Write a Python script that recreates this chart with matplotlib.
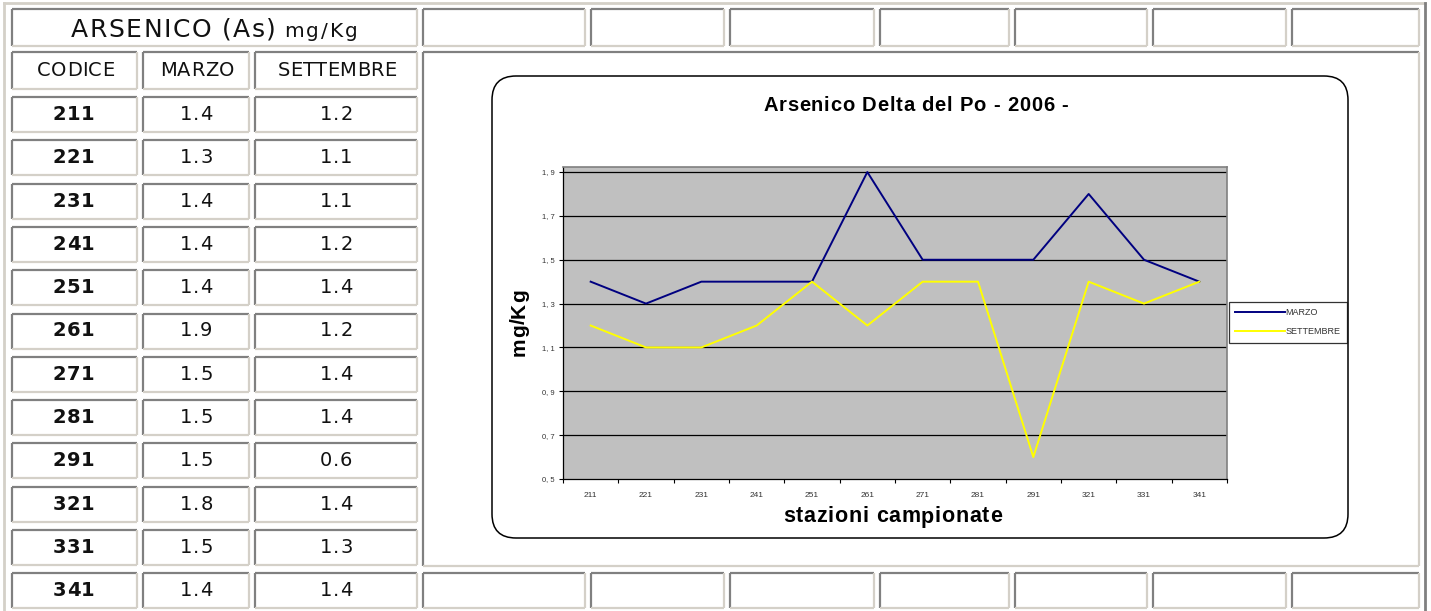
import matplotlib
matplotlib.use("Agg")
import matplotlib.pyplot as plt
from matplotlib.patches import FancyBboxPatch
from matplotlib.font_manager import FontProperties
import numpy as np

# data
codici = ["211", "221", "231", "241", "251", "261", "271", "281", "291", "321", "331", "341"]
marzo = [1.4, 1.3, 1.4, 1.4, 1.4, 1.9, 1.5, 1.5, 1.5, 1.8, 1.5, 1.4]
settembre = [1.2, 1.1, 1.1, 1.2, 1.4, 1.2, 1.4, 1.4, 0.6, 1.4, 1.3, 1.4]
yticks = [0.5, 0.7, 0.9, 1.1, 1.3, 1.5, 1.7, 1.9]

W, H = 1431, 611
DARK = "#808080"
LIGHT = "#d4d0c8"
TFONT = "DejaVu Sans"
CFONT = "Liberation Sans"

fig = plt.figure(figsize=(W / 100, H / 100), dpi=100)
bg = fig.add_axes([0, 0, 1, 1])
bg.set_xlim(0, W)
bg.set_ylim(H, 0)
bg.axis("off")
renderer = fig.canvas.get_renderer()


def tracked(x, y, s, size, family, weight="normal", track=0.0, width=None,
            ha="center", color="black", rot=0):
    # letter-spaced text, drawn char by char on the baseline y (or x if rotated)
    prop = FontProperties(family=family, size=size, weight=weight)

    def w(t):
        return renderer.get_text_width_height_descent(t, prop, ismath=False)[0]

    href = w("H")
    lefts = [0.0] + [w(s[:k] + "H") - href for k in range(1, len(s))]
    base = w(s)
    if width is not None and len(s) > 1:
        track = (width - base) / (len(s) - 1)
    total = base + track * (len(s) - 1)
    start = {"left": 0.0, "center": total / 2, "right": total}[ha]
    for k, ch in enumerate(s):
        if ch == " ":
            continue
        off = lefts[k] + k * track - start
        if rot == 0:
            bg.text(x + off, y, ch, ha="left", va="baseline", fontproperties=prop, color=color)
        else:
            bg.text(x, y - off, ch, ha="left", va="baseline", rotation=90,
                    rotation_mode="anchor", fontproperties=prop, color=color)


def cell(x0, y0, x1, y1, lw=1.6):
    # inset 3d border: dark top/left, light bottom/right
    bg.plot([x0, x1], [y0, y0], color=DARK, lw=lw, solid_capstyle="butt")
    bg.plot([x0, x0], [y0, y1], color=DARK, lw=lw, solid_capstyle="butt")
    bg.plot([x0, x1], [y1, y1], color=LIGHT, lw=lw, solid_capstyle="butt")
    bg.plot([x1, x1], [y0, y1], color=LIGHT, lw=lw, solid_capstyle="butt")


# outer table frame
bg.plot([4, 1425], [3, 3], color=LIGHT, lw=2)
bg.plot([4, 4], [3, 611], color=LIGHT, lw=2)
bg.plot([1425, 1425], [3, 611], color=DARK, lw=2)

# row geometry
row_top = [9, 52] + [97 + 43.3 * i for i in range(12)]
row_h = [37, 37] + [35] * 12
col_x = [(12, 137), (143, 249), (255, 417)]
extra_x = [(423, 585), (591, 724), (730, 874), (880, 1009), (1015, 1147), (1153, 1286), (1292, 1419)]
TXT = "#111111"

# title row
cell(12, row_top[0], 417, row_top[0] + row_h[0])
tracked(71, 37, "ARSENICO (As)", 18, TFONT, width=205, ha="left", color=TXT)
tracked(284, 37, "mg/Kg", 14.5, TFONT, width=74, ha="left", color=TXT)
for x0, x1 in extra_x:
    cell(x0, row_top[0], x1, row_top[0] + row_h[0])

# header row
for (x0, x1), lab in zip(col_x, ["CODICE", "MARZO", "SETTEMBRE"]):
    cell(x0, row_top[1], x1, row_top[1] + row_h[1])
    tracked((x0 + x1) / 2 + 1, 76, lab, 14, TFONT, track=0.3, color=TXT)

# data rows
for i, (c, m, s) in enumerate(zip(codici, marzo, settembre)):
    t = row_top[i + 2]
    h = row_h[i + 2]
    vals = [c, f"{m:.1f}", f"{s:.1f}"]
    for j, ((x0, x1), v) in enumerate(zip(col_x, vals)):
        cell(x0, t, x1, t + h)
        if j == 0:
            tracked((x0 + x1) / 2 - 1, t + 23, v, 14, TFONT, track=0.4, color=TXT, weight="bold")
        else:
            tracked((x0 + x1) / 2, t + 23, v, 14, TFONT, track=1.0, color=TXT)

# last row extra cells
for x0, x1 in extra_x:
    cell(x0, row_top[13], x1, row_top[13] + row_h[13])

# big cell holding the chart
cell(423, 52, 1419, 566)

# rounded chart box
box = FancyBboxPatch((492, 76), 1348 - 492, 538 - 76,
                     boxstyle="round,pad=0,rounding_size=24",
                     fc="white", ec="black", lw=1.1)
bg.add_patch(box)

tracked(763, 111, "Arsenico Delta del Po - 2006 -", 14.5, CFONT, weight="bold",
        width=305, ha="left")

# chart axes
px0, px1, py0, py1 = 563, 1227, 167, 479
ax = fig.add_axes([px0 / W, 1 - py1 / H, (px1 - px0) / W, (py1 - py0) / H])
ax.set_facecolor("#c0c0c0")
x = np.arange(len(codici))
ax.plot(x, marzo, color="#000080", lw=1.4, label="MARZO")
ax.plot(x, settembre, color="#ffff00", lw=1.4, label="SETTEMBRE")
ax.set_xlim(-0.5, len(codici) - 0.5)
ax.set_ylim(0.5, 1.923)
ax.set_yticks(yticks)
ax.set_yticklabels([f"{v:.1f}".replace(".", ", ") for v in yticks],
                   fontsize=5.5, family=CFONT, color="#333333")
for v in yticks[1:]:
    ax.axhline(v, color="black", lw=0.9, zorder=1)
ax.set_xticks(np.arange(-0.5, len(codici), 1.0))
ax.set_xticklabels([])
ax.set_xticks(x, minor=True)
ax.set_xticklabels(codici, minor=True, fontsize=6, family=CFONT, color="#333333")
ax.tick_params(axis="x", which="major", direction="out", length=3, width=0.8)
ax.tick_params(axis="x", which="minor", length=0, pad=9.5)
ax.tick_params(axis="y", direction="out", length=3, width=0.8, pad=3)
for side in ["top", "right"]:
    ax.spines[side].set_color(DARK)
    ax.spines[side].set_linewidth(1.2)
for side in ["left", "bottom"]:
    ax.spines[side].set_color("black")
    ax.spines[side].set_linewidth(0.9)

tracked(525, 323, "mg/Kg", 15, CFONT, weight="bold", width=67, rot=90)
tracked(783, 522.5, "stazioni campionate", 15.5, CFONT, weight="bold", width=219, ha="left")

leg = ax.legend(loc="upper left", bbox_to_anchor=(1229 / W, 1 - 302 / H),
                bbox_transform=fig.transFigure, frameon=True,
                fancybox=False, edgecolor="black", handlelength=5.5,
                handletextpad=0.05, borderpad=0.7, labelspacing=1.1,
                borderaxespad=0, prop={"family": CFONT, "size": 6.5})
leg.get_frame().set_linewidth(0.9)
for t in leg.get_texts():
    t.set_color("#333333")

fig.savefig("out.png", dpi=100, facecolor="white")
